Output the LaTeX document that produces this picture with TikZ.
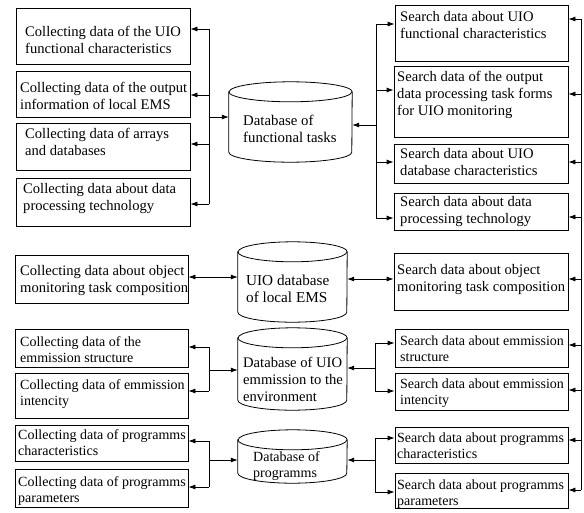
\documentclass[tikz,border=0pt]{standalone}
\usepackage{fontspec}
\setmainfont{Liberation Serif}
\usetikzlibrary{arrows.meta,fit}
\tikzset{
  boxst/.style={draw, line width=0.8pt, inner sep=0pt},
  txt/.style={align=left, inner sep=0pt, anchor=north west, font=\fontsize{14.6}{17}\selectfont},
  txts/.style={align=left, inner sep=0pt, anchor=north west, font=\fontsize{14}{16}\selectfont},
  cylst/.style={draw, line width=0.8pt},
  ln/.style={line width=0.8pt},
  arr/.style={line width=0.8pt, -{Latex[length=7pt,width=5pt]}},
  dbl/.style={line width=0.8pt, {Latex[length=7pt,width=5pt]}-{Latex[length=7pt,width=5pt]}},
}
\newcommand\dbbox[8]{%
  \node[boxst, fit={(#2,#3) (#4,#5)}] (#1) {};
  \node[txt] (#1t) at (#6,#7) {#8};}
\newcommand\dbboxs[8]{%
  \node[boxst, fit={(#2,#3) (#4,#5)}] (#1) {};
  \node[txts] (#1t) at (#6,#7) {#8};}
\newcommand\dbcyl[5]{%
  \node[fit={(#2,#3) (#4,#5)}, inner sep=0pt] (#1) {};
  \pgfmathsetmacro\cylrx{(#4-#2)/2}%
  \draw[cylst] ([yshift=-10pt]#1.north west) -- ([yshift=10pt]#1.south west)
    arc[start angle=180,end angle=360,x radius=\cylrx pt,y radius=10pt]
    -- ([yshift=-10pt]#1.north east)
    arc[start angle=0,end angle=180,x radius=\cylrx pt,y radius=10pt] -- cycle;
  \draw[cylst] ([yshift=-10pt]#1.north west)
    arc[start angle=180,end angle=360,x radius=\cylrx pt,y radius=10pt];}
\begin{document}
\begin{tikzpicture}[x=1pt,y=-1pt]
\fill[white] (0,0) rectangle (584,512);
\useasboundingbox (0,0) rectangle (584,512);

% left boxes
\dbbox{L1}{16}{8}{190}{64}{25}{26}{Collecting data of the UIO\\functional characteristics}
\dbbox{L2}{16}{71}{190}{117}{20}{82}{Collecting data of the output\\information of local EMS}
\dbbox{L3}{16}{123}{190}{170}{25}{128}{Collecting data of arrays\\and databases}
\dbbox{L4}{16}{178}{190}{226}{23}{183}{Collecting data about data\\processing technology}
\dbbox{L5}{15}{255}{188}{303}{20}{265}{Collecting data about object\\monitoring task composition}
\dbboxs{L6}{15}{329}{188}{367}{20}{336}{Collecting data of the\\emmission structure}
\dbboxs{L7}{15}{373}{188}{418}{20}{379}{Collecting data of emmission\\intencity}
\dbboxs{L8}{15}{425}{188}{461}{18}{429}{Collecting data of programms\\characteristics}
\dbboxs{L9}{15}{469}{188}{507}{18}{476}{Collecting data of programms\\parameters}

% right boxes
\dbbox{R1}{395}{5}{568}{61}{400}{11}{Search data about UIO\\functional characteristics}
\dbbox{R2}{394}{66}{568}{137}{397}{71}{Search data of the output\\data processing task forms\\for UIO monitoring}
\dbbox{R3}{394}{144}{568}{183}{400}{148}{Search data about UIO\\database characteristics}
\dbbox{R4}{394}{193}{568}{230}{400}{196}{Search data about data\\processing technology}
\dbbox{R5}{394}{253}{568}{310}{397}{264}{Search data about object\\monitoring task composition}
\dbboxs{R6}{395}{329}{568}{367}{400}{336}{Search data about emmission\\structure}
\dbboxs{R7}{395}{373}{568}{410}{400}{379}{Search data about emmission\\intencity}
\dbboxs{R8}{395}{427}{568}{463}{397}{433}{Search data about programms\\characteristics}
\dbboxs{R9}{395}{473}{568}{508}{397}{480}{Search data about programms\\parameters}

% cylinders
\dbcyl{C1}{229}{82}{352}{162}
\node[txt, font=\fontsize{14.8}{17}\selectfont] (C1t) at (243,115) {Database of\\functional tasks};
\dbcyl{C2}{238}{242}{347}{322}
\node[txt, font=\fontsize{15.2}{17}\selectfont] (C2t) at (246,275) {UIO database\\of local EMS};
\dbcyl{C3}{238}{328}{347}{410}
\node[txt] (C3t) at (243,357) {Database of UIO\\emmission to the\\environment};
\dbcyl{C4}{238}{430}{347}{483}
\node[txts] (C4t) at (253,451) {Database of\\programms};

% top-left bus
\coordinate (tl1) at (209,29);
\coordinate (tl2) at (209,95);
\coordinate (tl3) at (209,144);
\coordinate (tl4) at (209,204);
\coordinate (tlc) at (209,117);
\draw[ln] (tl1) -- (tl4);
\draw[arr] (tl1) -- (tl1 -| L1.east);
\draw[arr] (tl2) -- (tl2 -| L2.east);
\draw[arr] (tl3) -- (tl3 -| L3.east);
\draw[arr] (tl4) -- (tl4 -| L4.east);
\draw[arr] (tlc) -- (tlc -| C1.west);

% top-right bus
\coordinate (tr1) at (376,24);
\coordinate (tr2) at (376,90);
\coordinate (tr3) at (376,162);
\coordinate (tr4) at (376,218);
\coordinate (trc) at (376,125);
\draw[ln] (tr1) -- (tr4);
\draw[arr] (tr1) -- (tr1 -| R1.west);
\draw[arr] (tr2) -- (tr2 -| R2.west);
\draw[arr] (tr3) -- (tr3 -| R3.west);
\draw[arr] (tr4) -- (tr4 -| R4.west);
\draw[arr] (trc) -- (trc -| C1.east);

% far right line
\coordinate (f1) at (581,19);
\coordinate (f2) at (581,94);
\coordinate (f3) at (581,162);
\coordinate (f4) at (581,217);
\coordinate (f5) at (581,279);
\coordinate (f6) at (581,345);
\coordinate (f7) at (581,390);
\coordinate (f8) at (581,440);
\coordinate (f9) at (581,490);
\draw[ln] (f1) -- (f9);
\draw[arr] (f1) -- (f1 -| R1.east);
\draw[arr] (f2) -- (f2 -| R2.east);
\draw[arr] (f3) -- (f3 -| R3.east);
\draw[arr] (f4) -- (f4 -| R4.east);
\draw[arr] (f5) -- (f5 -| R5.east);
\draw[arr] (f6) -- (f6 -| R6.east);
\draw[arr] (f7) -- (f7 -| R7.east);
\draw[arr] (f8) -- (f8 -| R8.east);
\draw[arr] (f9) -- (f9 -| R9.east);

% middle double arrows
\coordinate (d1) at (0,277);
\coordinate (d2) at (0,279);
\draw[dbl] (d1 -| L5.east) -- (d1 -| C2.west);
\draw[dbl] (d2 -| C2.east) -- (d2 -| R5.west);

% group 3
\coordinate (g3l1) at (209,347);
\coordinate (g3l2) at (209,391);
\coordinate (g3lc) at (209,370);
\draw[ln] (g3l1) -- (g3l2);
\draw[arr] (g3l1) -- (g3l1 -| L6.east);
\draw[arr] (g3l2) -- (g3l2 -| L7.east);
\draw[arr] (g3lc) -- (g3lc -| C3.west);
\coordinate (g3r1) at (375,343);
\coordinate (g3r2) at (375,391);
\coordinate (g3rc) at (375,368);
\draw[ln] (g3r1) -- (g3r2);
\draw[arr] (g3r1) -- (g3r1 -| R6.west);
\draw[arr] (g3r2) -- (g3r2 -| R7.west);
\draw[arr] (g3rc) -- (g3rc -| C3.east);

% group 4
\coordinate (g4l1) at (209,441);
\coordinate (g4l2) at (209,487);
\coordinate (g4lc) at (209,460);
\draw[ln] (g4l1) -- (g4l2);
\draw[arr] (g4l1) -- (g4l1 -| L8.east);
\draw[arr] (g4l2) -- (g4l2 -| L9.east);
\draw[arr] (g4lc) -- (g4lc -| C4.west);
\coordinate (g4r1) at (375,438);
\coordinate (g4r2) at (375,492);
\coordinate (g4rc) at (375,460);
\draw[ln] (g4r1) -- (g4r2);
\draw[arr] (g4r1) -- (g4r1 -| R8.west);
\draw[arr] (g4r2) -- (g4r2 -| R9.west);
\draw[arr] (g4rc) -- (g4rc -| C4.east);
\end{tikzpicture}
\end{document}
